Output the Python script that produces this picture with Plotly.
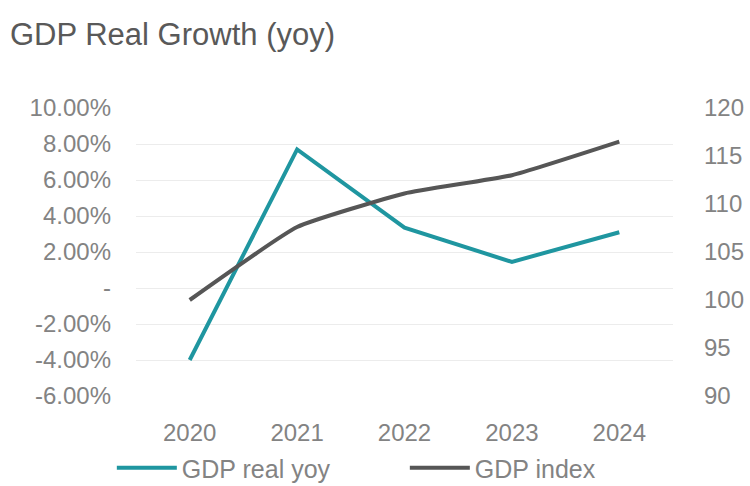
import plotly.graph_objects as go

years = ["2020", "2021", "2022", "2023", "2024"]
gdp_real_yoy = [-4.0, 7.7, 3.35, 1.45, 3.1]          # percent
gdp_index = [100.0, 107.6, 111.1, 113.0, 116.5]

left_tickvals = [-6, -4, -2, 0, 2, 4, 6, 8, 10]
left_ticktext = ["-6.00%", "-4.00%", "-2.00%", "-", "2.00%", "4.00%", "6.00%", "8.00%", "10.00%"]
right_tickvals = [90, 95, 100, 105, 110, 115, 120]

TEAL = "#1f96a0"
DARK = "#565656"
TICK = "#838383"
FONT = "Liberation Sans, Arial, sans-serif"

fig = go.Figure()
fig.add_trace(go.Scatter(x=years, y=gdp_real_yoy, name="GDP real yoy", mode="lines",
                         line=dict(color=TEAL, width=4), yaxis="y"))
fig.add_trace(go.Scatter(x=years, y=gdp_index, name="GDP index", mode="lines",
                         line=dict(color=DARK, width=4, shape="spline", smoothing=0.4), yaxis="y2"))

fig.update_layout(
    width=750, height=486,
    paper_bgcolor="white", plot_bgcolor="white",
    margin=dict(l=136, r=77, t=108, b=90, autoexpand=False),
    font=dict(family=FONT, size=24, color=TICK),
    title=dict(text="GDP Real Growth (yoy)", x=10/750, xanchor="left", xref="container",
               y=1-34/486, yanchor="middle", yref="container",
               font=dict(size=31, color="#595959", family=FONT)),
    xaxis=dict(type="category", range=[-0.5, 4.5], showgrid=False, zeroline=False,
               showline=False, ticks="", ticklabelstandoff=20,
               tickfont=dict(size=24, color=TICK)),
    yaxis=dict(range=[-6, 10], tickvals=left_tickvals, ticktext=left_ticktext,
               showgrid=True, gridcolor="#ececec", gridwidth=1, zeroline=False,
               showline=False, ticks="", ticklabelstandoff=24,
               tickfont=dict(size=24, color=TICK)),
    yaxis2=dict(range=[90, 120], tickvals=right_tickvals, overlaying="y", side="right",
                showgrid=False, zeroline=False, showline=False, ticks="",
                ticklabelstandoff=30, tickfont=dict(size=24, color=TICK)),
    legend=dict(orientation="h", x=-0.045, xanchor="left", y=-0.25, yanchor="middle",
                font=dict(size=25, color=TICK), entrywidth=218, entrywidthmode="pixels",
                itemwidth=60, bgcolor="rgba(0,0,0,0)"),
    showlegend=True,
)

fig.write_html("out.html", config={"displayModeBar": False},
               post_script="document.body.style.margin='0';")
